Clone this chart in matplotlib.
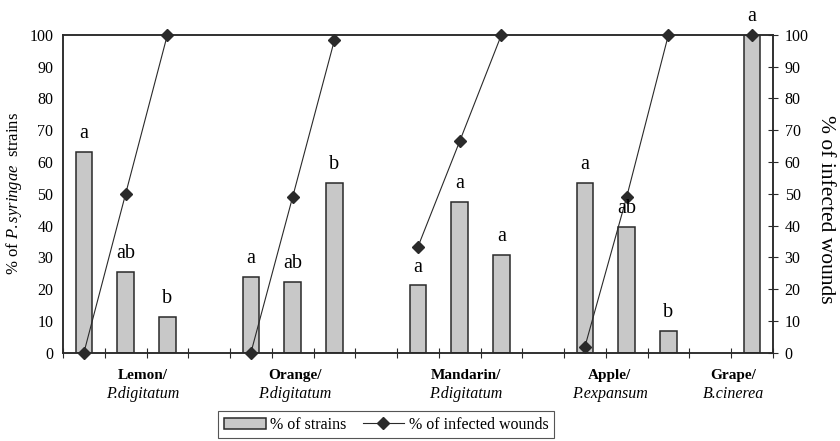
import numpy as np
import matplotlib.pyplot as plt
from matplotlib.lines import Line2D
from matplotlib.patches import Patch

plt.rcParams['font.family'] = ['Liberation Serif', 'DejaVu Serif']
plt.rcParams['mathtext.fontset'] = 'custom'
plt.rcParams['mathtext.rm'] = 'Liberation Serif'
plt.rcParams['mathtext.it'] = 'Liberation Serif:italic'

#-------------------------------------
# Data
#-------------------------------------
hosts = ['Lemon/', 'Orange/', 'Mandarin/', 'Apple/', 'Grape/']
pathogens = ['P.digitatum', 'P.digitatum', 'P.digitatum', 'P.expansum', 'B.cinerea']

lemon_strains = [63.3, 25.5, 11.3]
orange_strains = [23.8, 22.4, 53.3]
mandarin_strains = [21.2, 47.4, 30.7]
apple_strains = [53.3, 39.5, 6.9]
grape_strains = [100]

lemon_wounds = [0, 50, 100]
orange_wounds = [0, 49, 98.3]
mandarin_wounds = [33.3, 66.5, 100]
apple_wounds = [1.9, 49, 100]
grape_wounds = [100]

lemon_letters = ['a', 'ab', 'b']
orange_letters = ['a', 'ab', 'b']
mandarin_letters = ['a', 'a', 'a']
apple_letters = ['a', 'ab', 'b']
grape_letters = ['a']

#-------------------------------------
# Build the 17 category slots (3 bars + gap per host)
#-------------------------------------
strains_groups = [lemon_strains, orange_strains, mandarin_strains, apple_strains, grape_strains]
wounds_groups = [lemon_wounds, orange_wounds, mandarin_wounds, apple_wounds, grape_wounds]
letter_groups = [lemon_letters, orange_letters, mandarin_letters, apple_letters, grape_letters]

strains = []
wounds = []
letters = []
for i in range(len(hosts)):
    if i == len(hosts) - 1:
        # grape has an empty slot before its single bar
        strains.append(np.nan)
        wounds.append(np.nan)
        letters.append('')
    strains += strains_groups[i]
    wounds += wounds_groups[i]
    letters += letter_groups[i]
    if i < len(hosts) - 2:
        strains.append(np.nan)
        wounds.append(np.nan)
        letters.append('')
strains = np.array(strains, dtype=float)
wounds = np.array(wounds, dtype=float)
x = np.arange(strains.size)
label_pos = [1.4, 5.05, 9.15, 12.6, 15.55]

#-------------------------------------
# Plot
#-------------------------------------
fig = plt.figure(figsize=(8.4, 4.41), dpi=100)
ax = fig.add_axes([0.075, 0.2, 0.845, 0.721])

ok = ~np.isnan(strains)
ax.bar(x[ok], strains[ok], width=0.4, color='#c8c8c8', edgecolor='#2a2a2a',
       linewidth=1.1, zorder=2)
ax.plot(x, wounds, color='#2a2a2a', lw=0.8, marker='D', markersize=6,
        markerfacecolor='#2a2a2a', markeredgecolor='#2a2a2a', zorder=3, clip_on=False)

for xi, v, t in zip(x, strains, letters):
    if t:
        ax.annotate(t, xy=(xi, v), xytext=(0, 10), textcoords='offset points',
                    ha='center', va='baseline', fontsize=14.5, annotation_clip=False)

ax.set_xlim(-0.5, strains.size - 0.5)
ax.set_ylim(0, 100)
ax.set_yticks(np.arange(0, 101, 10))
ax.set_xticks(np.arange(-0.5, strains.size, 1.0))
ax.set_xticklabels([])
ax.tick_params(axis='x', direction='inout', length=7, width=0.8, color='#2a2a2a')
ax.tick_params(axis='y', length=0, labelsize=11.5, pad=7)

for s in ax.spines.values():
    s.set_color('#2a2a2a')
    s.set_linewidth(1.1)

ax.set_ylabel('% of $\\mathit{P.syringae}$  strains', fontsize=12, labelpad=4)

ax2 = ax.twinx()
ax2.set_ylim(0, 100)
ax2.set_yticks(np.arange(0, 101, 10))
ax2.tick_params(axis='y', direction='inout', length=7, width=0.8, color='#2a2a2a',
                labelsize=11.5, pad=5)
ax2.set_ylabel('% of infected wounds', fontsize=15.5, rotation=270, labelpad=19)
ax2.yaxis.label.set_y(0.45)
for s in ax2.spines.values():
    s.set_color('#2a2a2a')
    s.set_linewidth(1.1)

trans = ax.get_xaxis_transform()
for xp, h, p in zip(label_pos, hosts, pathogens):
    ax.annotate(h, xy=(xp, 0), xycoords=trans, xytext=(0, -16), textcoords='offset points',
                ha='center', va='center', fontsize=11, fontweight='bold')
    ax.annotate(p, xy=(xp, 0), xycoords=trans, xytext=(0, -30), textcoords='offset points',
                ha='center', va='center', fontsize=11.5, fontstyle='italic')

handles = [Patch(facecolor='#c8c8c8', edgecolor='#2a2a2a', linewidth=1.1),
           Line2D([], [], color='#2a2a2a', lw=0.8, marker='D', markersize=6)]
leg = fig.legend(handles, ['% of strains', '% of infected wounds'], ncol=2,
                 loc='lower center', bbox_to_anchor=(0.46, -0.012), fontsize=11.5,
                 frameon=True, fancybox=False, handlelength=2.6, handletextpad=0.3,
                 columnspacing=1.0, borderpad=0.35)
leg.get_frame().set_edgecolor('#2a2a2a')
leg.get_frame().set_linewidth(0.8)

fig.savefig('out.png', dpi=100)
